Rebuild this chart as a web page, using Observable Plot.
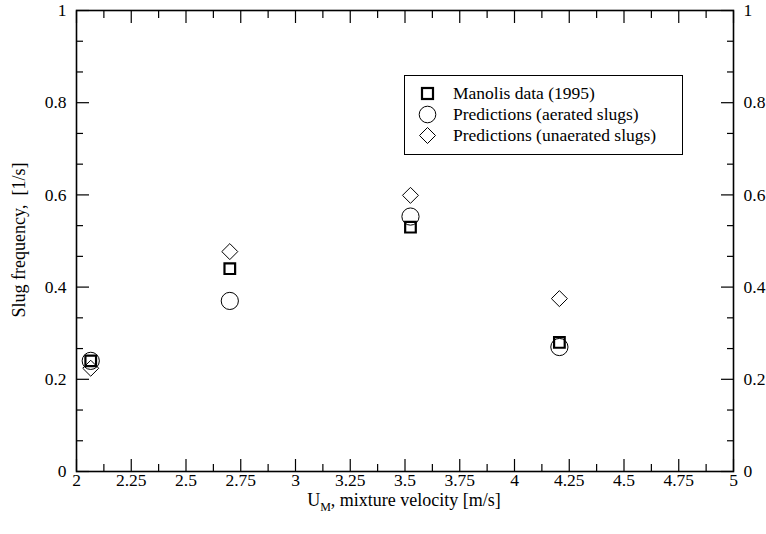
<!DOCTYPE html>
<html><head><meta charset="utf-8">
<script src="https://cdn.jsdelivr.net/npm/d3@7"></script>
<script src="https://cdn.jsdelivr.net/npm/@observablehq/plot@0.6"></script>
<style>
body{margin:0;background:#fff;}
#chart{position:relative;width:766px;height:534px;font-family:"Liberation Serif","Times New Roman",serif;color:#000;}
#legend{position:absolute;left:404px;top:75px;width:279px;height:80px;border:1px solid #000;background:#fff;box-sizing:border-box;}
.row{position:absolute;left:0;height:21px;display:flex;align-items:center;font-size:17.5px;white-space:nowrap;}
.row svg{width:48px;height:21px;flex:none;}
</style>
</head><body><div id="chart"></div>
<script>
// Data
const velocity = [2.065, 2.7, 3.525, 4.205];
const manolis = [0.240, 0.440, 0.530, 0.280];
const aerated = [0.240, 0.370, 0.553, 0.270];
const unaerated = [0.224, 0.477, 0.599, 0.375];
const seriesNames = ["Manolis data (1995)", "Predictions (aerated slugs)", "Predictions (unaerated slugs)"];

// Axes
const xMajorTicks = [2, 2.25, 2.5, 2.75, 3, 3.25, 3.5, 3.75, 4, 4.25, 4.5, 4.75, 5];
const xTickLabels = ["2", "2.25", "2.5", "2.75", "3", "3.25", "3.5", "3.75", "4", "4.25", "4.5", "4.75", "5"];
const xMinorTicks = [2.125, 2.375, 2.625, 2.875, 3.125, 3.375, 3.625, 3.875, 4.125, 4.375, 4.625, 4.875];
const yMajorTicks = [0, 0.2, 0.4, 0.6, 0.8, 1];
const yTickLabels = ["0", "0.2", "0.4", "0.6", "0.8", "1"];
const yMinorTicks = [0.2/3, 0.4/3, 0.8/3, 1.0/3, 1.4/3, 1.6/3, 2.0/3, 2.2/3, 2.6/3, 2.8/3];
const xTitle = ["U", "M", ", mixture velocity [m/s]"];
const yTitle = "Slug frequency,  [1/s]";

const rows = (ys) => velocity.map((x, i) => ({x, y: ys[i]}));
const fx = d => xTickLabels[xMajorTicks.indexOf(d)];
const fy = d => yTickLabels[yMajorTicks.indexOf(d)];
const none = () => "";
const font = '"Liberation Serif","Times New Roman",serif';

const svg = Plot.plot({
  width: 766, height: 534,
  marginLeft: 76, marginRight: 33, marginTop: 10, marginBottom: 63,
  x: {domain: [2, 5]},
  y: {domain: [0, 1]},
  style: {fontFamily: font, fontSize: "17.5px", color: "#000", background: "#fff"},
  marks: [
    Plot.axisX({anchor: "bottom", ticks: xMajorTicks, tickSize: -12, tickPadding: 14, tickFormat: fx, label: null, strokeWidth: 1.2, fontSize: 17.5}),
    Plot.axisX({anchor: "bottom", ticks: xMinorTicks, tickSize: -7, tickFormat: none, label: null, strokeWidth: 1.2}),
    Plot.axisX({anchor: "top", ticks: xMajorTicks, tickSize: -12, tickFormat: none, label: null, strokeWidth: 1.2}),
    Plot.axisX({anchor: "top", ticks: xMinorTicks, tickSize: -7, tickFormat: none, label: null, strokeWidth: 1.2}),
    Plot.axisY({anchor: "left", ticks: yMajorTicks, tickSize: -13, tickPadding: 23, tickFormat: fy, label: null, strokeWidth: 1.2, fontSize: 17.5}),
    Plot.axisY({anchor: "left", ticks: yMinorTicks, tickSize: -7, tickFormat: none, label: null, strokeWidth: 1.2}),
    Plot.axisY({anchor: "right", ticks: yMajorTicks, tickSize: -13, tickPadding: 23, tickFormat: fy, label: null, strokeWidth: 1.2, fontSize: 17.5}),
    Plot.axisY({anchor: "right", ticks: yMinorTicks, tickSize: -7, tickFormat: none, label: null, strokeWidth: 1.2}),
    Plot.frame({stroke: "#000", strokeWidth: 1.6}),
    Plot.dot(rows(unaerated), {x: "x", y: "y", symbol: "diamond2", r: 7.2, stroke: "#000", strokeWidth: 1, fill: "none"}),
    Plot.dot(rows(aerated), {x: "x", y: "y", symbol: "circle", r: 8.6, stroke: "#000", strokeWidth: 1, fill: "none"}),
    Plot.dot(rows(manolis), {x: "x", y: "y", symbol: "square", r: 6.0, stroke: "#000", strokeWidth: 2.2, fill: "none"})
  ]
});

const chart = document.getElementById("chart");
chart.appendChild(svg);

// Axis titles
const s = d3.select(svg);
const xt = s.append("text").attr("x", 404).attr("y", 506).attr("text-anchor", "middle")
  .attr("font-family", font).attr("font-size", 18).attr("fill", "#000");
xt.append("tspan").text(xTitle[0]);
xt.append("tspan").attr("font-size", 12).attr("dy", 5).text(xTitle[1]);
xt.append("tspan").attr("dy", -5).text(xTitle[2]);
s.append("text").attr("transform", "translate(25,240) rotate(-90)").attr("text-anchor", "middle")
  .attr("font-family", font).attr("font-size", 18).attr("fill", "#000").style("white-space", "pre").text(yTitle);

// Legend
const legend = document.createElement("div");
legend.id = "legend";
const shapes = [
  '<rect x="17" y="5" width="11" height="11" fill="none" stroke="#000" stroke-width="2.2"/>',
  '<circle cx="22.5" cy="10.5" r="8.3" fill="none" stroke="#000" stroke-width="1"/>',
  '<path d="M22.5,2.5L30.5,10.5L22.5,18.5L14.5,10.5Z" fill="none" stroke="#000" stroke-width="1"/>'
];
seriesNames.forEach((name, i) => {
  const r = document.createElement("div");
  r.className = "row";
  r.style.top = (7 + i * 21) + "px";
  r.innerHTML = '<svg viewBox="0 0 48 21">' + shapes[i] + '</svg><span>' + name + '</span>';
  legend.appendChild(r);
});
chart.appendChild(legend);
</script>
</body></html>
